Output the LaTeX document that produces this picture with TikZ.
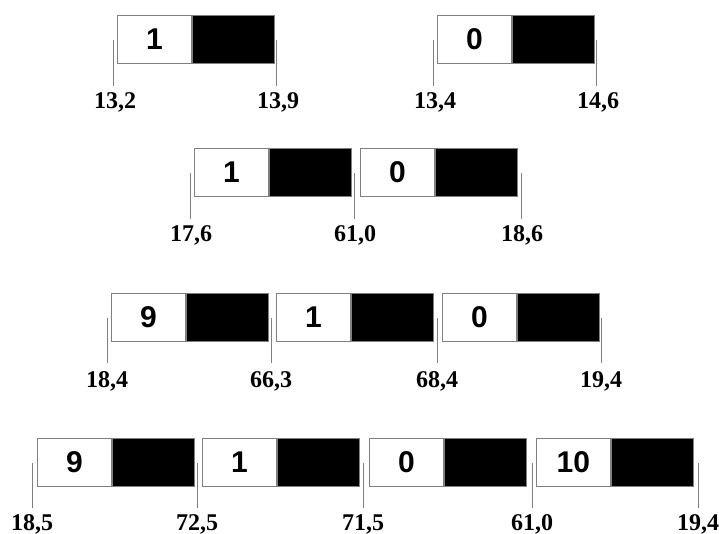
\documentclass[tikz,border=0pt]{standalone}
\usepackage{fontspec}
\setmainfont{Liberation Serif}
\newfontfamily\cellfont{Liberation Sans}
\usetikzlibrary{positioning}

\begin{document}
\begin{tikzpicture}[
  x=1pt, y=-1pt,
  cellw/.style={draw=gray, fill=white, line width=0.8pt, minimum width=74pt, minimum height=48pt, inner sep=0pt, anchor=north west, font=\cellfont\bfseries\fontsize{30}{30}\selectfont},
  cellb/.style={draw=gray, fill=black, line width=0.8pt, minimum width=82pt, minimum height=48pt, inner sep=0pt},
  tick/.style={draw=gray, line width=0.8pt},
  lab/.style={anchor=base, inner sep=0pt, font=\bfseries\fontsize{24}{24}\selectfont}
]
  \useasboundingbox (0,0) rectangle (719,534);

  % Row 1
  \foreach \x/\d [count=\i] in {117/1, 437/0} {
    \node[cellw] (w1\i) at (\x,15) {\d};
    \node[cellb, right=0pt of w1\i] (b1\i) {};
  }
  \foreach \x/\lab [count=\i] in {113/{13,2}, 276/{13,9}, 433/{13,4}, 596/{14,6}} {
    \coordinate (t1\i) at (\x,40);
    \node[lab] (l1\i) at (\x+2,109) {\lab};
    \draw[tick] (t1\i) -- ++(0,46);
  }

  % Row 2
  \foreach \x/\d [count=\i] in {194/1, 360/0} {
    \node[cellw] (w2\i) at (\x,148) {\d};
    \node[cellb, right=0pt of w2\i] (b2\i) {};
  }
  \foreach \x/\lab [count=\i] in {190/{17,6}, 354/{61,0}, 521/{18,6}} {
    \coordinate (t2\i) at (\x,173);
    \node[lab] (l2\i) at (\x+1,242) {\lab};
    \draw[tick] (t2\i) -- ++(0,46);
  }

  % Row 3
  \foreach \x/\d [count=\i] in {111/9, 276/1, 442/0} {
    \node[cellw] (w3\i) at (\x,293) {\d};
    \node[cellb, right=0pt of w3\i] (b3\i) {};
  }
  \foreach \x/\lab [count=\i] in {107/{18,4}, 271/{66,3}, 437/{68,4}, 601/{19,4}} {
    \coordinate (t3\i) at (\x,318);
    \node[lab] (l3\i) at (\x,387) {\lab};
    \draw[tick] (t3\i) -- ++(0,45);
  }

  % Row 4
  \foreach \x/\d [count=\i] in {37/9, 202/1, 369/0, 536/10} {
    \node[cellw] (w4\i) at (\x,438) {\d};
    \node[cellb, right=0pt of w4\i] (b4\i) {};
  }
  \foreach \x/\lab [count=\i] in {32/{18,5}, 197/{72,5}, 363/{71,5}, 532/{61,0}, 698/{19,4}} {
    \coordinate (t4\i) at (\x,463);
    \node[lab] (l4\i) at (\x,530) {\lab};
    \draw[tick] (t4\i) -- ++(0,45);
  }

\end{tikzpicture}
\end{document}
